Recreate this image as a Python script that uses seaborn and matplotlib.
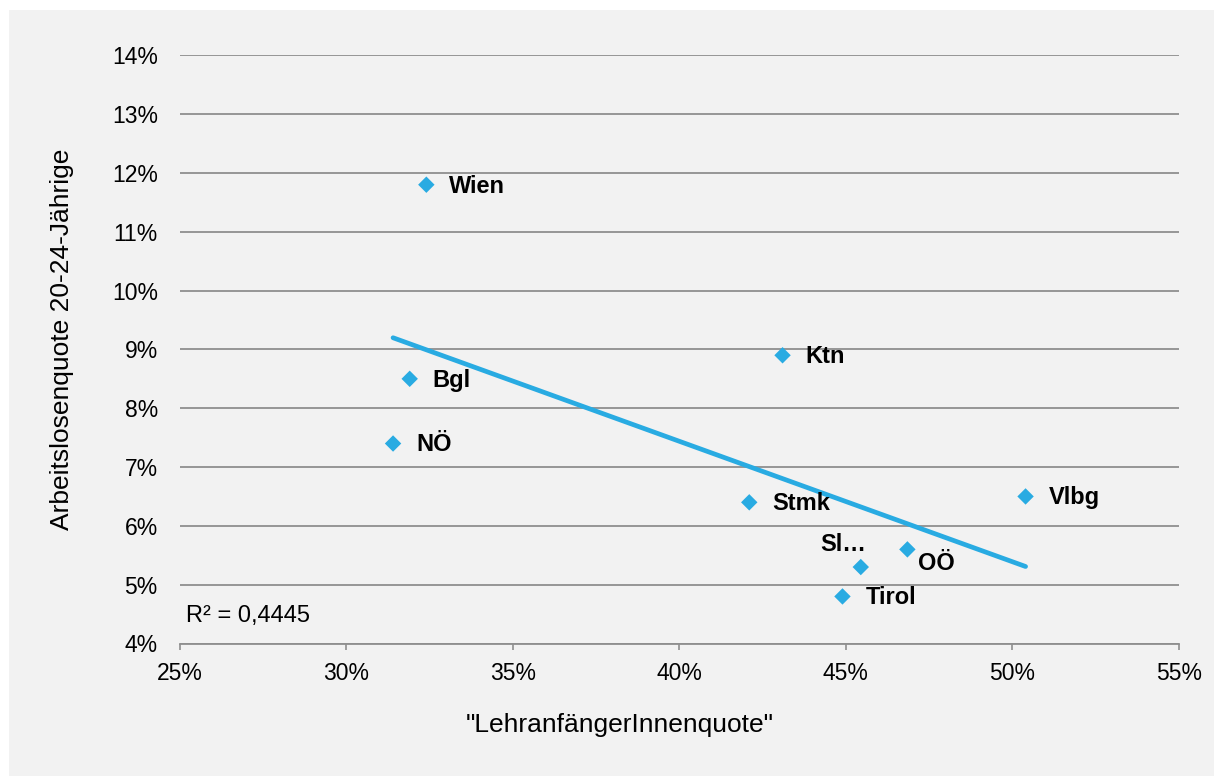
import matplotlib
matplotlib.use("Agg")
import matplotlib.pyplot as plt
import matplotlib.patches as mpatches
from matplotlib.ticker import FuncFormatter, MultipleLocator
import seaborn as sns
import pandas as pd

# Data (percent)
regions = ["Wien", "Ktn", "Bgl", "NÖ", "Stmk", "Vlbg", "OÖ", "Sl…", "Tirol"]
lehranfaenger = [32.4, 43.1, 31.9, 31.4, 42.1, 50.4, 46.85, 45.45, 44.9]
arbeitslos = [11.8, 8.9, 8.5, 7.4, 6.4, 6.5, 5.6, 5.3, 4.8]
r2_text = "R² = 0,4445"
x_label = "\"LehranfängerInnenquote\""
y_label = "Arbeitslosenquote 20-24-Jährige"

df = pd.DataFrame({"region": regions, "x": lehranfaenger, "y": arbeitslos})

sns.set_theme(style="white")
plt.rcParams["font.family"] = ["Liberation Sans", "DejaVu Sans"]
plt.rcParams["text.color"] = "black"

BG = "#f2f2f2"
BLUE = "#29abe2"
GRID = "#8f8f8f"

fig = plt.figure(figsize=(12.14, 7.76), dpi=100, facecolor="white")
fig.patches.append(mpatches.Rectangle((9 / 1214, 0), 1 - 9 / 1214, 1 - 10 / 776,
                                      transform=fig.transFigure, facecolor=BG,
                                      edgecolor="none", zorder=-10))
ax = fig.add_axes([180 / 1214, 1 - 643.5 / 776, (1178.7 - 180) / 1214, (643.5 - 55.3) / 776])
ax.set_facecolor(BG)
ax.patch.set_alpha(0)

sns.regplot(data=df, x="x", y="y", scatter=False, ci=None, ax=ax,
            line_kws=dict(color=BLUE, lw=3.4, solid_capstyle="round", zorder=2))
sns.scatterplot(data=df, x="x", y="y", marker="D", s=70, color=BLUE,
                edgecolor="none", ax=ax, zorder=3)

offsets = {
    "Sl…": (4, 16.5, "right"),
    "OÖ": (8, -10, "left"),
}
for r, xv, yv in zip(regions, lehranfaenger, arbeitslos):
    dx, dy, ha = offsets.get(r, (16.5, -1, "left"))
    ax.annotate(r, (xv, yv), xytext=(dx, dy), textcoords="offset points",
                ha=ha, va="center", fontsize=17, fontweight="bold", color="black")

ax.set_xlim(25, 55)
ax.set_ylim(4, 14)
ax.xaxis.set_major_locator(MultipleLocator(5))
ax.yaxis.set_major_locator(MultipleLocator(1))
ax.xaxis.set_major_formatter(FuncFormatter(lambda v, p: f"{v:.0f}%"))
ax.yaxis.set_major_formatter(FuncFormatter(lambda v, p: f"{v:.0f}%"))

ax.grid(axis="y", color=GRID, lw=1.3)
ax.set_axisbelow(True)
for s in ["top", "right", "left"]:
    ax.spines[s].set_visible(False)
ax.spines["bottom"].set_color(GRID)
ax.spines["bottom"].set_linewidth(1.3)

ax.tick_params(axis="x", direction="out", length=4, width=1.2, color=GRID,
               labelsize=16.5, pad=9, bottom=True, labelcolor="black")
ax.tick_params(axis="y", length=0, labelsize=16.5, pad=16, left=False,
               labelcolor="black")

ax.set_xlabel("")
ax.set_ylabel("")
fig.text(620 / 1214, 1 - 725 / 776, x_label, ha="center", va="center",
         fontsize=19, color="black")
fig.text(62 / 1214, 1 - 339 / 776, y_label, ha="center", va="center",
         rotation=90, fontsize=19, color="black")

ax.text(25.18, 4.46, r2_text, ha="left", va="center", fontsize=17, color="black")

fig.savefig("out.png", dpi=100, facecolor="white")
